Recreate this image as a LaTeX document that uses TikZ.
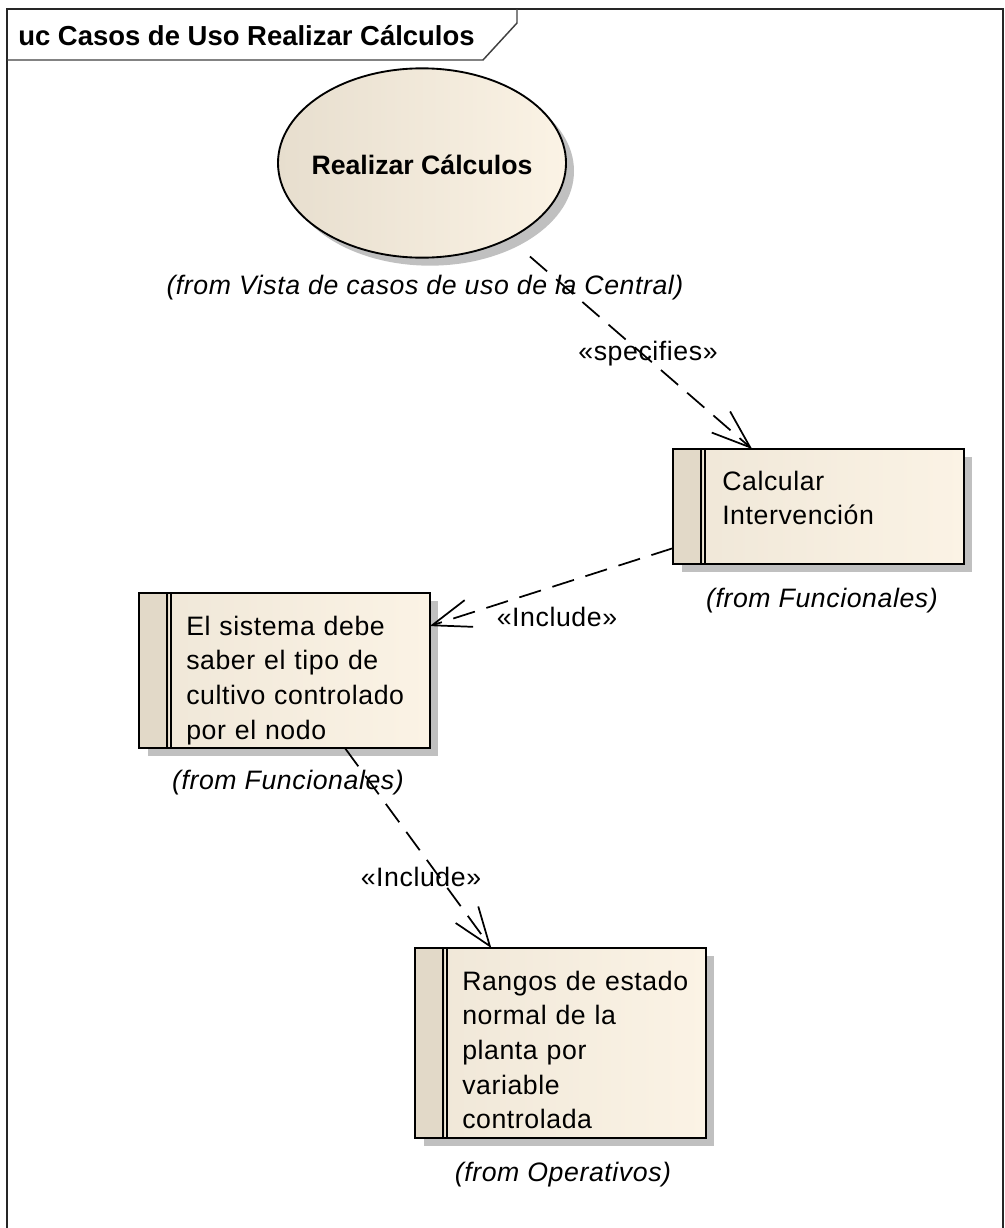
\documentclass[tikz,border=0pt]{standalone}
\usepackage{fontspec}
\setmainfont{Liberation Sans}
\newfontfamily\eafont{Liberation Sans}[LetterSpace=2.2]
\usepackage{tikz}
\usetikzlibrary{positioning}
\usetikzlibrary{shapes.geometric, arrows.meta, shadows}

\definecolor{ucpale}{RGB}{251,243,229}
\definecolor{ucdark}{RGB}{231,222,206}
\definecolor{ucstrip}{RGB}{226,217,200}
\definecolor{ucshade}{RGB}{192,192,192}

\tikzset{
  usecase/.style={ellipse, draw, line width=1.4pt, left color=ucdark, right color=ucpale,
    inner sep=0pt, minimum width=216pt, minimum height=142pt,
    drop shadow={shadow xshift=6pt, shadow yshift=-6pt, fill=ucshade, opacity=1}},
  reqbox/.style={rectangle, draw, line width=1.5pt, left color=ucdark!60!ucpale, right color=ucpale,
    inner sep=0pt, outer sep=0pt, minimum width=218pt, anchor=north west,
    drop shadow={shadow xshift=6.5pt, shadow yshift=-6pt, fill=ucshade, opacity=1},
    path picture={
      \fill[ucstrip] (path picture bounding box.north west) rectangle ([xshift=22.5pt]path picture bounding box.south west);
      \draw[line width=1pt] ([xshift=21pt]path picture bounding box.north west) -- ([xshift=21pt]path picture bounding box.south west);
      \draw[line width=1pt] ([xshift=24pt]path picture bounding box.north west) -- ([xshift=24pt]path picture bounding box.south west);
    }},
  reqtext/.style={anchor=base west, align=left, text width=200pt, inner sep=0pt, font=\eafont\fontsize{20}{26}\selectfont},
  fromtext/.style={inner sep=0pt, font=\eafont\fontsize{20}{24}\selectfont\itshape},
  stereo/.style={inner sep=0pt, font=\eafont\fontsize{20}{24}\selectfont},
  depend/.style={line width=1.3pt, dash pattern=on 17pt off 9pt,
    -{Straight Barb[length=29pt,width=21pt,line width=1.3pt]}}
}

\begin{document}
\begin{tikzpicture}[x=0.75pt, y=-0.75pt]
  \useasboundingbox (0,0) rectangle (1005,1228);

  % frame and header tab
  \draw[line width=1.2pt, black!85] (7,1228) -- (7,9) -- (1003,9) -- (1003,1228);
  \draw[line width=1.1pt, black!75] (7,60) -- (483,60) -- (517,23) -- (517,9);
  \node (title) at (18,45) [anchor=base west, inner sep=0pt, font=\fontsize{20.6}{24}\selectfont\bfseries]{uc Casos de Uso Realizar Cálculos};

  % use case
  \node (rc) at (422,163) [usecase]{};
  \node (rctxt) at (422,174) [anchor=base, inner sep=0pt, font=\fontsize{20}{24}\selectfont\bfseries]{Realizar Cálculos};
  \node (rcfrom) at (425,288) [fromtext]{(from Vista de casos de uso de la Central)};

  % requirements
  \node (calc) at (673,449) [reqbox, minimum height=86.25pt]{};
  \node (calctxt) at (722,490) [reqtext]{Calcular\\Intervención};
  \node (calcfrom) at (822,601) [fromtext]{(from Funcionales)};

  \node (req) at (139,593) [reqbox, minimum height=116.25pt]{};
  \node (reqtxt) at (186,635) [reqtext]{El sistema debe\\saber el tipo de\\cultivo controlado\\por el nodo};
  \node (reqfrom) at (288,783) [fromtext]{(from Funcionales)};

  \node (rng) at (415,948) [reqbox, minimum height=142.5pt]{};
  \node (rngtxt) at (462,990) [reqtext]{Rangos de estado\\normal de la\\planta por\\variable\\controlada};
  \node (rngfrom) at (563,1175) [fromtext]{(from Operativos)};

  % dependencies
  \draw[depend, shorten <=20pt] (rc) -- (calc);
  \node (spec) at (648,354) [stereo]{«specifies»};
  \draw[depend] (calc.196.6) -- (req.17.3);
  \node (inc1) at (557,617) [stereo]{«Include»};
  \draw[depend] (req.308.4) -- (rng.126);
  \node (inc2) at (421,877) [stereo]{«Include»};
\end{tikzpicture}
\end{document}
